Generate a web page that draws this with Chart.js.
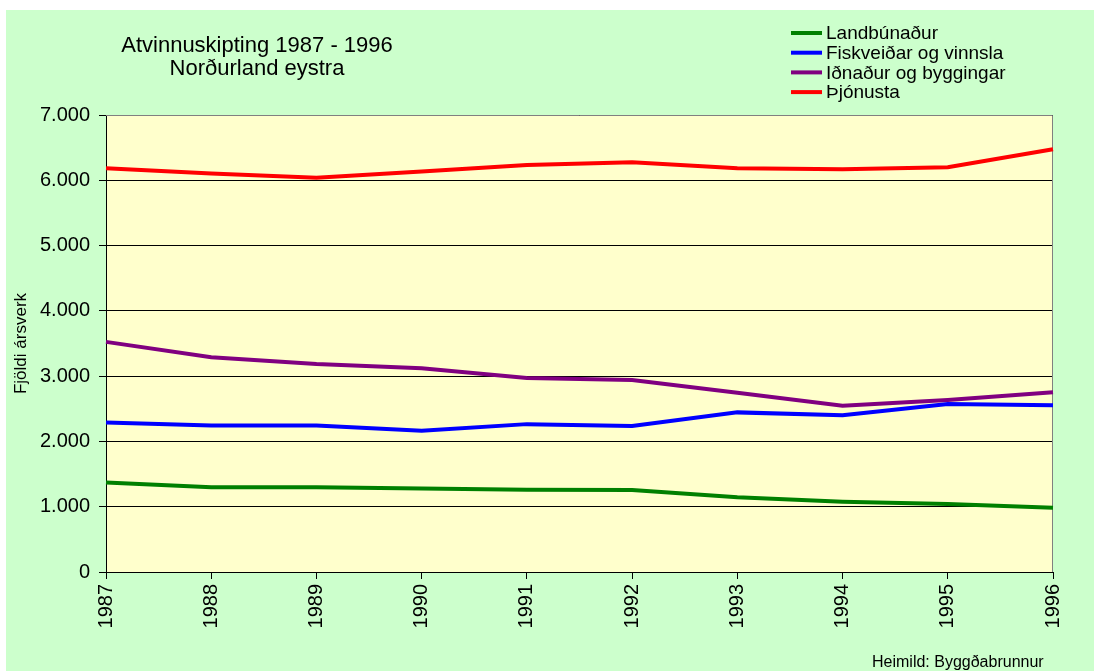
<!DOCTYPE html>
<html>
<head>
<meta charset="utf-8">
<script src="https://cdn.jsdelivr.net/npm/chart.js@4"></script>
<style>
  html, body { margin: 0; padding: 0; background: #fff; }
  #wrap { width: 1094px; height: 671px; }
</style>
</head>
<body>
<div id="wrap"><canvas id="chart" width="1094" height="671"></canvas></div>
<script>
var years = ['1987', '1988', '1989', '1990', '1991', '1992', '1993', '1994', '1995', '1996'];
var landbunadur = [1370, 1300, 1300, 1280, 1260, 1255, 1145, 1075, 1040, 985];
var fiskveidar = [2290, 2245, 2245, 2165, 2265, 2235, 2445, 2400, 2575, 2555];
var idnadur = [3525, 3290, 3185, 3120, 2970, 2940, 2745, 2545, 2635, 2755];
var thjonusta = [6185, 6105, 6040, 6135, 6235, 6275, 6185, 6170, 6200, 6475];
var yTicks = [0, 1000, 2000, 3000, 4000, 5000, 6000, 7000];

var FONT = '"Liberation Sans", Arial, sans-serif';

function punktar(v) {
  return String(v).replace(/\B(?=(\d{3})+(?!\d))/g, '.');
}

var bakgrunnur = {
  id: 'bakgrunnur',
  beforeDraw: function (chart) {
    var ctx = chart.ctx, a = chart.chartArea;
    ctx.save();
    ctx.fillStyle = '#ffffff';
    ctx.fillRect(0, 0, chart.width, chart.height);
    ctx.fillStyle = '#CCFFCC';
    ctx.fillRect(6, 10, chart.width - 6, chart.height - 10);
    ctx.fillStyle = '#FFFFCC';
    ctx.fillRect(a.left, a.top, a.right - a.left, a.bottom - a.top);
    ctx.restore();
  },
  beforeDatasetsDraw: function (chart) {
    var ctx = chart.ctx, a = chart.chartArea;
    ctx.save();
    ctx.strokeStyle = '#808080';
    ctx.lineWidth = 1;
    ctx.beginPath();
    ctx.moveTo(a.left, a.top + 0.5);
    ctx.lineTo(a.right - 0.5, a.top + 0.5);
    ctx.lineTo(a.right - 0.5, a.bottom);
    ctx.stroke();
    ctx.restore();
  },
  afterDraw: function (chart) {
    var ctx = chart.ctx;
    ctx.save();
    ctx.fillStyle = '#000';
    // titill
    ctx.font = '22px ' + FONT;
    ctx.textAlign = 'center';
    ctx.textBaseline = 'alphabetic';
    ctx.fillText('Atvinnuskipting 1987 - 1996', 257, 52);
    ctx.fillText('Norðurland eystra', 257, 75);
    // skýringar
    ctx.font = '19px ' + FONT;
    ctx.textAlign = 'left';
    ctx.textBaseline = 'middle';
    chart.data.datasets.forEach(function (ds, i) {
      var y = 33 + i * 19.7;
      ctx.strokeStyle = ds.borderColor;
      ctx.lineWidth = 4;
      ctx.beginPath();
      ctx.moveTo(791, y);
      ctx.lineTo(822, y);
      ctx.stroke();
      ctx.fillText(ds.label, 826, y + 1);
    });
    // heimild
    ctx.font = '16px ' + FONT;
    ctx.textBaseline = 'alphabetic';
    ctx.fillText('Heimild: Byggðabrunnur', 872, 667);
    ctx.restore();
  }
};

function lina(label, data, color) {
  return {
    label: label,
    data: data,
    borderColor: color,
    backgroundColor: color,
    borderWidth: 4,
    pointRadius: 0,
    tension: 0,
    fill: false
  };
}

new Chart(document.getElementById('chart'), {
  type: 'line',
  data: {
    labels: years,
    datasets: [
      lina('Landbúnaður', landbunadur, '#008000'),
      lina('Fiskveiðar og vinnsla', fiskveidar, '#0000FF'),
      lina('Iðnaður og byggingar', idnadur, '#800080'),
      lina('Þjónusta', thjonusta, '#FF0000')
    ]
  },
  options: {
    responsive: false,
    animation: false,
    devicePixelRatio: 1,
    layout: { padding: { top: 115, right: 41, left: 0, bottom: 0 } },
    plugins: {
      legend: { display: false },
      title: { display: false },
      tooltip: { enabled: false }
    },
    scales: {
      x: {
        afterFit: function (s) { s.height = 99; },
        ticks: {
          minRotation: 90, maxRotation: 90, autoSkip: false,
          color: '#000', padding: 5, font: { family: FONT, size: 20 }
        },
        grid: { drawOnChartArea: false, drawTicks: true, tickLength: 7, color: '#000' },
        border: { color: '#000', width: 1 }
      },
      y: {
        min: 0,
        max: 7000,
        afterFit: function (s) { s.width = 106; },
        afterBuildTicks: function (s) { s.ticks = yTicks.map(function (v) { return { value: v }; }); },
        ticks: {
          color: '#000', padding: 9, font: { family: FONT, size: 20 },
          callback: function (v) { return punktar(v); }
        },
        grid: { color: '#000', lineWidth: 1, tickLength: 7 },
        border: { color: '#000', width: 1 },
        title: {
          display: true, text: 'Fjöldi ársverk', color: '#000',
          font: { family: FONT, size: 17 }, padding: { top: 11, bottom: 0 }
        }
      }
    }
  },
  plugins: [bakgrunnur]
});
</script>
</body>
</html>
